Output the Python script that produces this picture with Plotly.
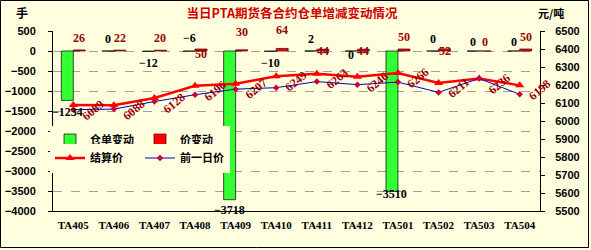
import plotly.graph_objects as go

# ---------------- data ----------------
contracts = ['TA405', 'TA406', 'TA407', 'TA408', 'TA409', 'TA410',
             'TA411', 'TA412', 'TA501', 'TA502', 'TA503', 'TA504']
warrant_change = [-1234, 0, -12, -6, -3718, -10, 2, 0, -3510, 0, 0, 0]
price_change = [26, 22, 20, 50, 30, 64, 44, 44, 50, 52, 0, 50]
settle_price = [6089, 6088, 6128, 6196, 6207, 6249, 6263, 6246, 6266, 6211, 6236, 6198]
prev_price = [6063, 6066, 6108, 6146, 6177, 6185, 6219, 6202, 6216, 6159, 6236, 6148]

# ---------------- label placement (pixel shifts, style only) ----------------
warrant_label_shift = [-12, 12, -12, 13, -10, -12, 12, -4, -3, 12, 9, 9]
price_label_shift = [12, 12, 12, -5, 18, 18, -2, -2, 12, -2, 9, 12]

W, H = 591, 250
ML, MR, MT, MB = 53, 51, 31, 39
PW, PH = W - ML - MR, H - MT - MB

def px_x(px):
    return (px - ML) / PW

def px_y(py):
    return (H - MB - py) / PH

BG = '#FFFFE0'
DARKRED = '#990000'
BAR_OFF = 0.1475

fig = go.Figure()
fig.add_trace(go.Bar(
    x=contracts, y=warrant_change, name='仓单变动',
    marker=dict(color='#33FF33', line=dict(color='#000000', width=0.7)),
    legend='legend'))
fig.add_trace(go.Bar(
    x=contracts, y=price_change, name='价变动',
    marker=dict(color='#FF0000', line=dict(color='#400000', width=0.7)),
    legend='legend'))
fig.add_trace(go.Scatter(
    x=contracts, y=settle_price, name='结算价', yaxis='y2',
    mode='lines+markers',
    line=dict(color='#FF0000', width=2.5),
    marker=dict(symbol='triangle-up', size=8, color='#FF0000'),
    legend='legend2'))
fig.add_trace(go.Scatter(
    x=contracts, y=prev_price, name='前一日价', yaxis='y2',
    mode='lines+markers',
    line=dict(color='#0000CC', width=1),
    marker=dict(symbol='diamond', size=5, color='#CC0033'),
    legend='legend2'))

annotations = []
lab_font = dict(family='Liberation Serif', size=12, weight='bold')
for i, v in enumerate(warrant_change):
    annotations.append(dict(
        x=i - BAR_OFF, y=v, xref='x', yref='y', text=str(v).replace('-', '−'),
        showarrow=False, yshift=warrant_label_shift[i],
        font=dict(lab_font, color='#000000')))
for i, v in enumerate(price_change):
    annotations.append(dict(
        x=i + BAR_OFF, y=v, xref='x', yref='y', text=str(v),
        showarrow=False, yshift=price_label_shift[i],
        font=dict(lab_font, color=DARKRED)))
for i, v in enumerate(settle_price):
    annotations.append(dict(
        x=i, y=v, xref='x', yref='y2', text=str(v),
        showarrow=False, xshift=20, yshift=-5, textangle=-40,
        font=dict(family='Liberation Serif', size=12, weight='bold', color=DARKRED)))

# unit labels
annotations.append(dict(x=px_x(14), y=px_y(13), xref='paper', yref='paper', text='手',
                        showarrow=False, yanchor='middle',
                        font=dict(family='Noto Sans CJK SC', size=12, weight='bold', color='#000000')))
annotations.append(dict(x=px_x(566), y=px_y(13), xref='paper', yref='paper', text='元/吨',
                        showarrow=False, yanchor='middle',
                        font=dict(family='Noto Sans CJK SC', size=11, weight='bold', color='#000000')))

fig.update_layout(
    width=W, height=H,
    margin=dict(l=ML, r=MR, t=MT, b=MB, pad=0, autoexpand=False),
    paper_bgcolor=BG, plot_bgcolor=BG,
    barmode='group', bargap=0.41, bargroupgap=0,
    title=dict(text='当日PTA期货各合约仓单增减变动情况',
               x=292 / W, xanchor='center', y=1 - 14 / H, yanchor='middle',
               font=dict(family='Noto Sans CJK SC', size=12.5, weight='bold', color='#D00000')),
    xaxis=dict(type='category', categoryorder='array', categoryarray=contracts,
               range=[-0.5, len(contracts) - 0.5], automargin=False,
               showline=True, linecolor='#000000', linewidth=1,
               ticks='', showgrid=False, zeroline=False,
               tickfont=dict(family='Liberation Serif', size=11, weight='bold', color='#000000'),
               ticklabelstandoff=4),
    xaxis2=dict(overlaying='x', side='top', anchor='y', type='linear',
                range=[-0.5, len(contracts) - 0.5], automargin=False,
                tickvals=[k + 0.5 for k in range(len(contracts) - 1)],
                ticks='inside', ticklen=4, tickcolor='#000000',
                showticklabels=False, showline=True, linecolor='#000000', linewidth=1,
                showgrid=False, zeroline=False),
    yaxis=dict(range=[-4000, 500], dtick=500, tick0=0, automargin=False,
               showline=True, linecolor='#000000', linewidth=1,
               ticks='outside', ticklen=4, tickcolor='#000000',
               showgrid=True, gridcolor='#A0A0A0', griddash='dash', gridwidth=1,
               zeroline=False, ticklabelstandoff=10,
               tickfont=dict(family='Liberation Sans', size=11, weight='bold', color='#000000')),
    yaxis2=dict(range=[5500, 6500], dtick=100, overlaying='y', side='right', automargin=False,
                showline=True, linecolor='#000000', linewidth=1,
                ticks='outside', ticklen=4, tickcolor='#000000',
                showgrid=False, zeroline=False, ticklabelstandoff=8,
                tickfont=dict(family='Liberation Sans', size=11, weight='bold', color='#000000')),
    legend=dict(orientation='h', x=px_x(50), xanchor='left', y=px_y(140), yanchor='middle',
                bgcolor=BG, borderwidth=0, itemwidth=30,
                entrywidth=45, entrywidthmode='pixels', traceorder='normal',
                font=dict(family='Noto Sans CJK SC', size=11, weight='bold', color='#000000')),
    legend2=dict(orientation='h', x=px_x(50), xanchor='left', y=px_y(158), yanchor='middle',
                 bgcolor=BG, borderwidth=0, itemwidth=30,
                 entrywidth=45, entrywidthmode='pixels', traceorder='normal',
                 font=dict(family='Noto Sans CJK SC', size=11, weight='bold', color='#000000')),
    annotations=annotations,
    shapes=[dict(type='rect', xref='paper', yref='paper',
                 x0=px_x(0.5), x1=px_x(588.5), y0=px_y(247.5), y1=px_y(0.5),
                 line=dict(color='#000000', width=1), layer='above')],
    showlegend=True,
)

fig.write_html('out.html')
